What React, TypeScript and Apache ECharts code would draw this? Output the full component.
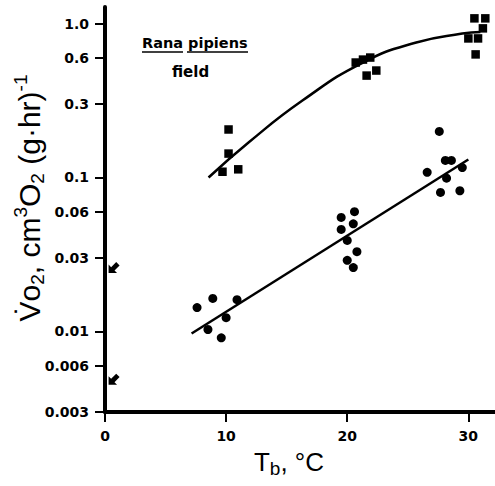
import React, { useEffect, useRef } from "react";
import * as echarts from "echarts";

const xTicks = [0, 10, 20, 30];
const yTicks = [0.003, 0.006, 0.01, 0.03, 0.06, 0.1, 0.3, 0.6, 1.0];
const yTickLabels = ["0.003", "0.006", "0.01", "0.03", "0.06", "0.1", "0.3", "0.6", "1.0"];

// field frogs (squares)
const squareX = [10.2, 10.2, 9.7, 11.0, 20.7, 21.3, 21.9, 21.6, 22.4, 30.5, 31.4, 31.2, 30.0, 30.8, 30.6];
const squareY = [0.205, 0.143, 0.109, 0.113, 0.558, 0.583, 0.601, 0.459, 0.495, 1.08, 1.08, 0.93, 0.80, 0.80, 0.63];

// circles
const circleX = [7.6, 8.9, 10.9, 10.0, 8.5, 9.6, 20.6, 19.5, 20.5, 19.5, 20.0, 20.8, 20.0, 20.5, 27.6, 26.6, 28.1, 28.6, 29.5, 28.2, 27.7, 29.3];
const circleY = [0.0143, 0.0164, 0.0161, 0.0123, 0.0103, 0.0091, 0.060, 0.055, 0.050, 0.046, 0.039, 0.033, 0.029, 0.026, 0.199, 0.108, 0.129, 0.129, 0.116, 0.099, 0.080, 0.082];

// fitted curves
const upperFitX = [8.55, 11.9, 16.3, 21.3, 25.7, 29.5, 31.0];
const upperFitY = [0.1, 0.17, 0.316, 0.558, 0.753, 0.86, 0.88];
const lowerFitX = [7.15, 30.0];
const lowerFitY = [0.0097, 0.131];

// arrows on the y axis
const arrowX = [0.75, 0.75];
const arrowY = [0.026, 0.0049];

const zip = (xs: number[], ys: number[]) => xs.map((x, i) => [x, ys[i]]);

const ARROW = "path://M0,0 L10,0 L7,3 L13,9 L9,13 L3,7 L0,10 Z";

export default function App() {
  const ref = useRef<HTMLDivElement>(null);
  useEffect(() => {
    if (!ref.current) return;
    const chart = echarts.init(ref.current, null, { renderer: "svg" });
    const tickFont = { fontFamily: "DejaVu Sans", fontWeight: "bold" as const, fontSize: 14, color: "#000" };
    chart.setOption({
      animation: false,
      backgroundColor: "#fff",
      grid: { left: 105, top: 7, right: 0, bottom: 74 },
      xAxis: {
        type: "value",
        min: 0,
        max: 32.2,
        interval: 10,
        splitLine: { show: false },
        axisLine: { lineStyle: { color: "#000", width: 4 } },
        axisTick: { customValues: xTicks, length: 10, lineStyle: { color: "#000", width: 2 } },
        axisLabel: { customValues: xTicks, margin: 17, ...tickFont },
      },
      yAxis: {
        type: "log",
        logBase: 10,
        min: 0.003,
        max: 1.28,
        splitLine: { show: false },
        minorTick: { show: false },
        axisLine: { show: true, lineStyle: { color: "#000", width: 4 } },
        axisTick: { show: true, customValues: yTicks, length: 10, lineStyle: { color: "#000", width: 2 } },
        axisLabel: {
          customValues: yTicks,
          margin: 16,
          ...tickFont,
          formatter: (v: number) => {
            let best = 0;
            yTicks.forEach((t, i) => {
              if (Math.abs(Math.log10(t) - Math.log10(v)) < Math.abs(Math.log10(yTicks[best]) - Math.log10(v))) best = i;
            });
            return yTickLabels[best];
          },
        },
      },
      series: [
        {
          type: "line",
          data: zip(upperFitX, upperFitY),
          smooth: 0.5,
          symbol: "none",
          lineStyle: { color: "#000", width: 2.5 },
          z: 2,
        },
        {
          type: "line",
          data: zip(lowerFitX, lowerFitY),
          symbol: "none",
          lineStyle: { color: "#000", width: 2.5 },
          z: 2,
        },
        {
          type: "scatter",
          data: zip(squareX, squareY),
          symbol: "rect",
          symbolSize: 8.5,
          itemStyle: { color: "#000", opacity: 1 },
          z: 3,
        },
        {
          type: "scatter",
          data: zip(circleX, circleY),
          symbol: "circle",
          symbolSize: 9,
          itemStyle: { color: "#000", opacity: 1 },
          z: 3,
        },
        {
          type: "scatter",
          data: zip(arrowX, arrowY),
          symbol: ARROW,
          symbolSize: [11, 11],
          symbolRotate: 90,
          itemStyle: { color: "#000", opacity: 1 },
          z: 3,
        },
      ],
      graphic: [
        {
          type: "text",
          x: 142,
          y: 35,
          style: { text: "Rana pipiens", font: "bold 14.5px 'DejaVu Sans'", fill: "#000" },
        },
        { type: "line", shape: { x1: 142, y1: 52, x2: 183, y2: 52 }, style: { stroke: "#000", lineWidth: 1.5 } },
        { type: "line", shape: { x1: 187, y1: 52, x2: 248, y2: 52 }, style: { stroke: "#000", lineWidth: 1.5 } },
        {
          type: "text",
          x: 172,
          y: 64,
          style: { text: "field", font: "bold 15px 'DejaVu Sans'", fill: "#000" },
        },
        {
          type: "text",
          x: 29,
          y: 198,
          rotation: Math.PI / 2,
          style: {
            text: "{m|V\u0307o}{s|2}{m|, cm}{p|3}{m|O}{s|2}{m| (g\u00B7hr)}{p|-1}",
            align: "center",
            verticalAlign: "middle",
            fill: "#000",
            rich: {
              m: { fontFamily: "Liberation Sans", fontSize: 30, lineHeight: 36, fill: "#000" },
              s: { fontFamily: "Liberation Sans", fontSize: 19, lineHeight: 19, verticalAlign: "bottom", fill: "#000" },
              p: { fontFamily: "Liberation Sans", fontSize: 19, lineHeight: 19, verticalAlign: "top", fill: "#000" },
            },
          },
        },
        {
          type: "text",
          x: 289,
          y: 462,
          style: {
            text: "{m|T}{s|b}{m|, °C}",
            align: "center",
            verticalAlign: "middle",
            fill: "#000",
            rich: {
              m: { fontFamily: "Liberation Sans", fontSize: 26, lineHeight: 32, fill: "#000" },
              s: { fontFamily: "Liberation Sans", fontSize: 19, lineHeight: 19, verticalAlign: "bottom", fill: "#000" },
            },
          },
        },
      ],
    });
    return () => chart.dispose();
  }, []);
  return <div ref={ref} style={{ position: "fixed", left: 0, top: 0, width: 495, height: 486 }} />;
}
